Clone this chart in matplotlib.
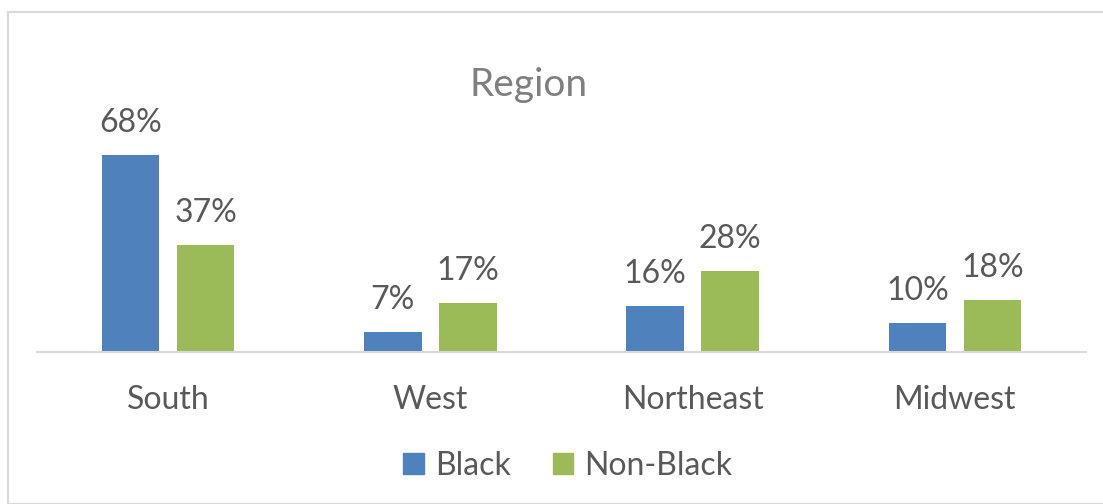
import numpy as np
import matplotlib.pyplot as plt
from matplotlib.patches import Rectangle, Patch

regions = ['South', 'West', 'Northeast', 'Midwest']
black = [68, 7, 16, 10]
non_black = [37, 17, 28, 18]
series_names = ['Black', 'Non-Black']

blue = '#4F81BD'
green = '#9BBB59'
txt = '#595959'

plt.rcParams['font.family'] = ['Lato', 'DejaVu Sans']

W, H = 1103, 504
fig = plt.figure(figsize=(W / 100, H / 100), dpi=100)

# outer chart border
fig.patches.append(Rectangle((8 / W, 0), 1.2, 1 - 12 / H, transform=fig.transFigure,
                             fill=False, edgecolor='#D9D9D9', linewidth=1.5))

ax = fig.add_axes([37 / W, (H - 352) / H, (1086 - 37) / W, (352 - 12) / H])
x = np.arange(len(regions))
w = 0.22
off = 0.143
b1 = ax.bar(x - off, black, w, color=blue)
b2 = ax.bar(x + off, non_black, w, color=green)

for bars, vals in ((b1, black), (b2, non_black)):
    for r, v in zip(bars, vals):
        ax.annotate(f'{v}%', (r.get_x() + r.get_width() / 2, v),
                    xytext=(0, 12), textcoords='offset points',
                    ha='center', va='bottom', fontsize=23, color=txt)

ax.set_xlim(-0.5, len(regions) - 0.5)
ax.set_ylim(0, 340 / 2.9)
ax.set_yticks([])
ax.set_xticks(x)
ax.set_xticklabels(regions, fontsize=23, color=txt)
ax.tick_params(axis='x', length=0, pad=24)
for s in ['top', 'right', 'left']:
    ax.spines[s].set_visible(False)
ax.spines['bottom'].set_color('#D9D9D9')
ax.spines['bottom'].set_linewidth(1.5)

fig.text(529 / W, 1 - 85 / H, 'Region', ha='center', va='center', fontsize=28, color='#7F7F7F')

handles = [Patch(color=blue), Patch(color=green)]
leg = fig.legend(handles, series_names, loc='center', bbox_to_anchor=(568 / W, 1 - 466 / H),
                 ncol=2, frameon=False, fontsize=23, handlelength=0.65, handleheight=0.65,
                 handletextpad=0.35, columnspacing=1.3)
for t in leg.get_texts():
    t.set_color(txt)

fig.savefig('out.png', dpi=100)
